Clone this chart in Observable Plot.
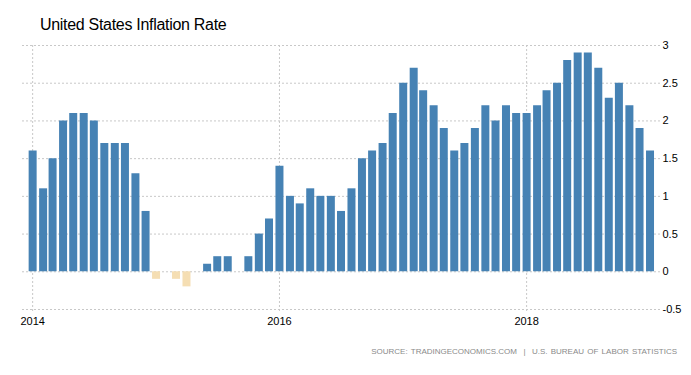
<!DOCTYPE html>
<html>
<head>
<meta charset="utf-8">
<script src="https://cdn.jsdelivr.net/npm/d3@7"></script>
<script src="https://cdn.jsdelivr.net/npm/@observablehq/plot@0.6"></script>
<style>
  html, body { margin: 0; padding: 0; background: #fff; }
  #wrap { position: relative; width: 691px; height: 375px; overflow: hidden; font-family: "Liberation Sans", Arial, sans-serif; }
  #title { position: absolute; left: 40px; top: 16px; font-size: 16px; color: #000; letter-spacing: -0.3px; }
  #caption { position: absolute; right: 14px; top: 347px; font-size: 8px; color: #8a8a8a; letter-spacing: 0px; word-spacing: 1px; white-space: pre; }
  #chart { position: absolute; left: 0; top: 0; }
</style>
</head>
<body>
<div id="wrap">
  <div id="chart"></div>
  <div id="title">United States Inflation Rate</div>
  <div id="caption">SOURCE: TRADINGECONOMICS.COM  |  U.S. BUREAU OF LABOR STATISTICS</div>
</div>
<script>
const months = [
  "2014-01","2014-02","2014-03","2014-04","2014-05","2014-06","2014-07","2014-08","2014-09","2014-10","2014-11","2014-12",
  "2015-01","2015-02","2015-03","2015-04","2015-05","2015-06","2015-07","2015-08","2015-09","2015-10","2015-11","2015-12",
  "2016-01","2016-02","2016-03","2016-04","2016-05","2016-06","2016-07","2016-08","2016-09","2016-10","2016-11","2016-12",
  "2017-01","2017-02","2017-03","2017-04","2017-05","2017-06","2017-07","2017-08","2017-09","2017-10","2017-11","2017-12",
  "2018-01","2018-02","2018-03","2018-04","2018-05","2018-06","2018-07","2018-08","2018-09","2018-10","2018-11","2018-12",
  "2019-01"
];
const inflation = [
  1.6, 1.1, 1.5, 2.0, 2.1, 2.1, 2.0, 1.7, 1.7, 1.7, 1.3, 0.8,
  -0.1, 0.0, -0.1, -0.2, 0.0, 0.1, 0.2, 0.2, 0.0, 0.2, 0.5, 0.7,
  1.4, 1.0, 0.9, 1.1, 1.0, 1.0, 0.8, 1.1, 1.5, 1.6, 1.7, 2.1,
  2.5, 2.7, 2.4, 2.2, 1.9, 1.6, 1.7, 1.9, 2.2, 2.0, 2.2, 2.1,
  2.1, 2.2, 2.4, 2.5, 2.8, 2.9, 2.9, 2.7, 2.3, 2.5, 2.2, 1.9,
  1.6
];
const yTicks = [-0.5, 0, 0.5, 1, 1.5, 2, 2.5, 3];
const xTickLabels = ["2014", "2016", "2018"];

const data = months.map((m, i) => ({ date: new Date(m + "-01T00:00:00Z"), value: inflation[i] }));
const xTicks = xTickLabels.map(y => new Date(y + "-01-01T00:00:00Z"));

const grid = { stroke: "#c8c8c8", strokeOpacity: 1, strokeWidth: 1, strokeDasharray: "2,2" };

const chart = Plot.plot({
  width: 691,
  height: 375,
  marginTop: 45,
  marginBottom: 66,
  marginLeft: 22,
  marginRight: 31,
  style: { fontFamily: "'Liberation Sans', Arial, sans-serif", background: "transparent" },
  x: { type: "utc", domain: [new Date("2013-12-02T00:00:00Z"), new Date("2019-02-01T00:00:00Z")] },
  y: { domain: [-0.5, 3] },
  marks: [
    Plot.ruleY(yTicks, { y: d => d, ...grid }),
    Plot.ruleX(xTicks, { x: d => d, y1: 3, y2: -0.5, insetBottom: -4, ...grid }),
    Plot.ruleX(data, {
      x: "date", y1: 0, y2: "value", strokeWidth: 8,
      stroke: d => d.value < 0 ? "#f5deb3" : "#4682b4"
    }),
    Plot.axisY({ anchor: "right", ticks: yTicks, tickSize: 0, tickPadding: 2, tickFormat: d => String(d), fontSize: 11, fill: "#000", label: null }),
    Plot.axisX({ ticks: xTicks, tickSize: 0, tickPadding: 8, tickFormat: d => d3.utcFormat("%Y")(d), fontSize: 11, fill: "#000", label: null })
  ]
});
document.getElementById("chart").appendChild(chart);
</script>
</body>
</html>
